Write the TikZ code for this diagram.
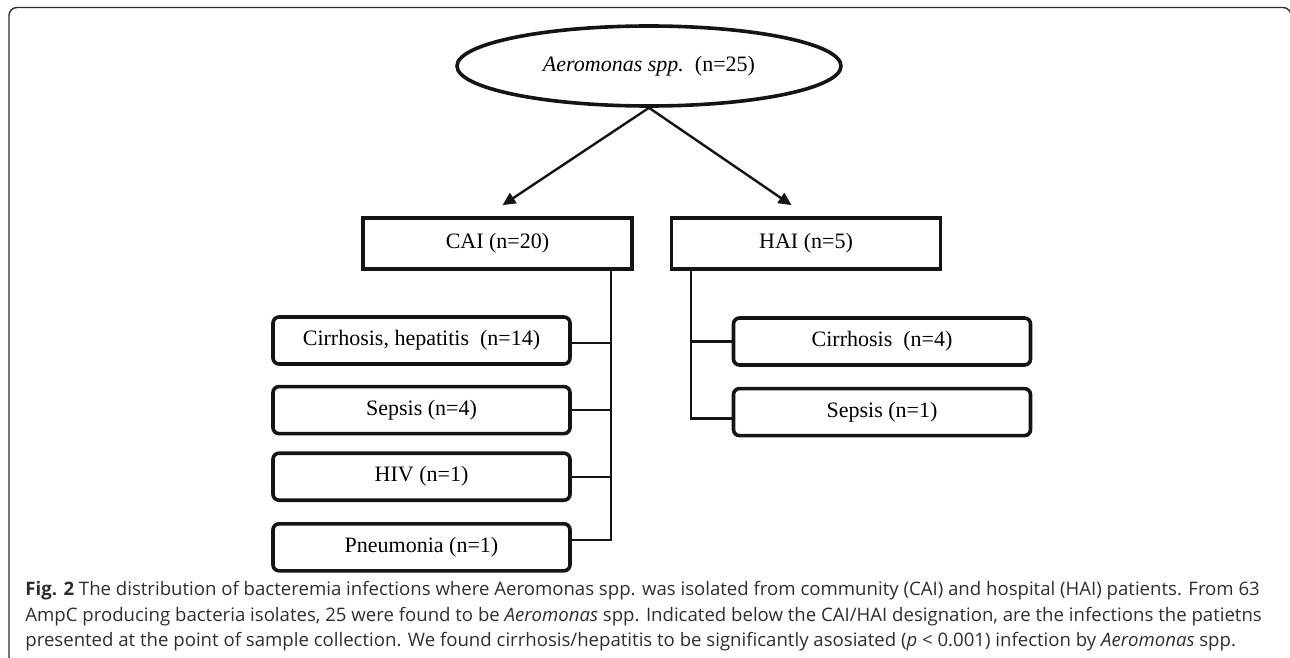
\documentclass[tikz,border=0pt]{standalone}
\usepackage{fontspec}
\setmainfont{Liberation Serif}
\newfontfamily\capfont{Open Sans}
\usetikzlibrary{arrows.meta,positioning,shapes.geometric}

\definecolor{inkblack}{HTML}{141414}
\definecolor{capgrey}{HTML}{2E2E2E}

\tikzset{
  root/.style={ellipse, draw=inkblack, line width=1.8pt, minimum width=192pt, minimum height=40pt, inner sep=0pt, font=\fontsize{11}{13}\selectfont},
  group/.style={rectangle, draw=inkblack, line width=1.8pt, minimum width=134.5pt, minimum height=25.5pt, inner sep=0pt, font=\fontsize{11}{13}\selectfont},
  infection/.style={rectangle, rounded corners=3pt, draw=inkblack, line width=1.8pt, minimum width=148.5pt, minimum height=23.5pt, inner sep=0pt, font=\fontsize{11}{13}\selectfont},
  split/.style={-{Triangle[length=6.5pt,width=6pt]}, line width=1.2pt, draw=inkblack},
  link/.style={line width=1.2pt, draw=inkblack},
  caption/.style={anchor=base west, inner sep=0pt, text=capgrey, font=\capfont\fontsize{9.3}{11}\selectfont}
}

\begin{document}
\begin{tikzpicture}[x=0.5pt, y=-0.5pt]
  \clip (0,0) rectangle (1290,658);
  \draw[capgrey, line width=0.7pt, rounded corners=4pt] (9,7.5) rectangle (1291,665);

  \node[root] (aero) at (649,66) {\textit{Aeromonas spp.}\ \ (n=25)};

  \node[group] (cai) at (497.5,243.5) {CAI (n=20)};
  \node[group] (hai) at (806,243.5) {HAI (n=5)};

  \node[infection] (cirrA) at (421.5,340.5) {Cirrhosis, hepatitis\ \ (n=14)};
  \node[infection, below=9.5pt of cirrA] (sepA) {Sepsis (n=4)};
  \node[infection, below=8pt of sepA] (hiv) {HIV (n=1)};
  \node[infection, below=10pt of hiv] (pneu) {Pneumonia (n=1)};

  \node[infection] (cirrB) at (882,341.5) {Cirrhosis\ \ (n=4)};
  \node[infection, below=10pt of cirrB] (sepB) {Sepsis (n=1)};

  \draw[split] (aero.south) -- ([shift={(2.5pt,5.5pt)}]cai.north);
  \draw[split] (aero.south) -- ([shift={(-7.25pt,5.5pt)}]hai.north);

  \coordinate (busL) at ([xshift=-11.5pt]cai.south east);
  \coordinate (busR) at ([xshift=10.5pt]hai.south west);

  \draw[link] (busL) |- ([yshift=-1.25pt]cirrA.east);
  \draw[link] (busL) |- (sepA.east);
  \draw[link] (busL) |- (hiv.east);
  \draw[link] (busL) |- ([yshift=3.75pt]pneu.east);

  \draw[link] (busR) |- (cirrB.west);
  \draw[link] (busR) |- ([yshift=-3.25pt]sepB.west);

  \node[caption] (capA) at (25,595) {\textbf{Fig. 2} The distribution of bacteremia infections where Aeromonas spp. was isolated from community (CAI) and hospital (HAI) patients. From 63};
  \node[caption] (capB) at (25,621) {AmpC producing bacteria isolates, 25 were found to be \textit{Aeromonas} spp. Indicated below the CAI/HAI designation, are the infections the patietns};
  \node[caption] (capC) at (25,646) {presented at the point of sample collection. We found cirrhosis/hepatitis to be significantly asosiated (\textit{p} < 0.001) infection by \textit{Aeromonas} spp.};
\end{tikzpicture}
\end{document}
